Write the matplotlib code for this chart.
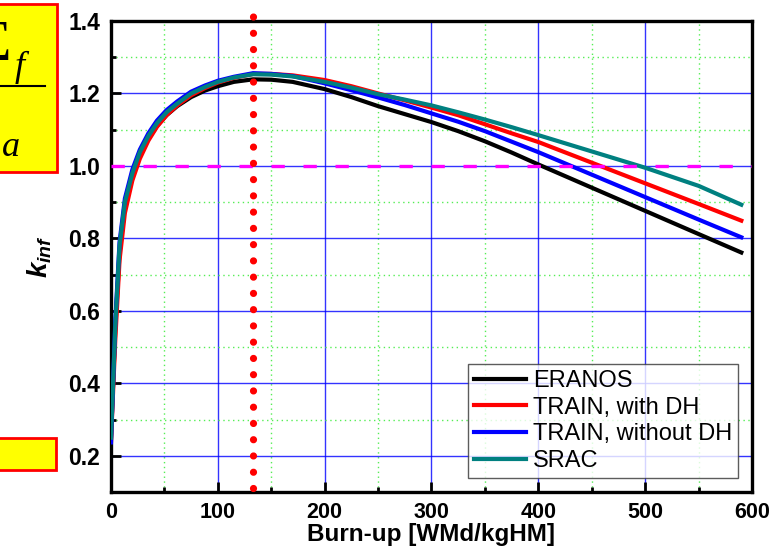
import matplotlib
matplotlib.use("Agg")
import matplotlib.pyplot as plt
from matplotlib.ticker import MultipleLocator
from matplotlib.patches import Rectangle
from matplotlib.lines import Line2D

plt.rcParams['font.family'] = ['Liberation Sans', 'DejaVu Sans']
plt.rcParams['mathtext.fontset'] = 'custom'
plt.rcParams['mathtext.it'] = 'Liberation Sans:italic:bold'
plt.rcParams['mathtext.rm'] = 'Liberation Sans:bold'

burnup = [0, 4, 8, 13, 20, 27, 35, 43, 52, 62, 75, 88, 100, 115, 133, 150, 170,
          200, 225, 250, 275, 300, 325, 350, 375, 400, 450, 500, 550, 590]
eranos = [0.25, 0.55, 0.76, 0.89, 0.975, 1.03, 1.075, 1.11, 1.14, 1.165, 1.19, 1.208, 1.22, 1.232, 1.239, 1.238, 1.232,
          1.212, 1.19, 1.165, 1.143, 1.121, 1.096, 1.068, 1.037, 1.004, 0.94, 0.876, 0.812, 0.761]
train_dh = [0.24, 0.52, 0.74, 0.87, 0.96, 1.02, 1.07, 1.108, 1.14, 1.167, 1.195, 1.215, 1.23, 1.243, 1.254, 1.254, 1.25,
            1.237, 1.22, 1.20, 1.181, 1.161, 1.14, 1.115, 1.09, 1.066, 1.009, 0.952, 0.895, 0.849]
train_nodh = [0.237, 0.57, 0.79, 0.91, 0.99, 1.045, 1.09, 1.125, 1.154, 1.178, 1.205, 1.222, 1.235, 1.246, 1.256, 1.254, 1.248,
              1.228, 1.209, 1.189, 1.168, 1.145, 1.122, 1.096, 1.067, 1.038, 0.976, 0.914, 0.852, 0.803]
srac = [0.25, 0.56, 0.78, 0.90, 0.98, 1.038, 1.083, 1.118, 1.148, 1.172, 1.2, 1.218, 1.232, 1.244, 1.253, 1.252, 1.247,
        1.232, 1.216, 1.198, 1.183, 1.167, 1.148, 1.128, 1.107, 1.085, 1.04, 0.995, 0.945, 0.893]

labels = ["ERANOS", "TRAIN, with DH", "TRAIN, without DH", "SRAC"]
colors = ["#000000", "#ff0000", "#0000ff", "#008080"]
peak_burnup = 133
k_ref = 1.0

W, H = 782, 551
fig = plt.figure(figsize=(W / 100, H / 100), dpi=100)
ax = fig.add_axes([111 / W, 1 - 492 / H, (752 - 111) / W, (492 - 21) / H])

for y, c, lab in zip([eranos, train_dh, train_nodh, srac], colors, labels):
    ax.plot(burnup, y, color=c, lw=3, label=lab, zorder=3, solid_joinstyle='round')

ax.axhline(k_ref, color='#ff00ff', lw=2.4, dashes=(4, 5.6), zorder=4)
ax.plot([peak_burnup, peak_burnup], [0.112, 1.414], color='#ff0000', lw=5.2,
        linestyle=(0, (0.001, 2.25)), dash_capstyle='round', zorder=5, clip_on=False)

ax.set_xlim(0, 600)
ax.set_ylim(0.1, 1.4)
ax.xaxis.set_major_locator(MultipleLocator(100))
ax.xaxis.set_minor_locator(MultipleLocator(50))
ax.yaxis.set_minor_locator(MultipleLocator(0.1))
ax.set_yticks([0.2, 0.4, 0.6, 0.8, 1.0, 1.2, 1.4])

ax.grid(which='major', color='#0000ff', lw=1.0, alpha=0.8, zorder=1)
ax.grid(which='minor', color='#55ee55', lw=1.0, linestyle=(0, (1, 2.5)), zorder=1)
ax.set_axisbelow(True)

for s in ax.spines.values():
    s.set_linewidth(2.4)
ax.tick_params(which='both', direction='in', top=False, right=False, width=2)
ax.tick_params(which='major', length=7)
ax.tick_params(which='minor', length=3.5)
ax.tick_params(axis='x', labelsize=15.5, pad=7)
ax.tick_params(axis='y', labelsize=16.5, pad=8)
ax.set_xticks([0, 100, 200, 300, 400, 500, 600])
ax.set_xticklabels(['0', '100', '200', '300', '400', '500', '600'], fontweight='bold')
ax.set_yticklabels(['0.2', '0.4', '0.6', '0.8', '1.0', '1.2', '1.4'], fontweight='bold')

ax.set_xlabel("Burn-up [WMd/kgHM]", fontsize=17.5, fontweight='bold', labelpad=0)
ax.set_ylabel(r"$k_{inf}$", fontsize=20, labelpad=10)

leg = ax.legend(loc='lower right', bbox_to_anchor=(0.978, 0.03), borderaxespad=0,
                fontsize=17, frameon=True, fancybox=False, edgecolor='#333333',
                handlelength=2.2, handletextpad=0.3, labelspacing=0.2,
                borderpad=0.25)
leg.get_frame().set_linewidth(1.0)
leg.set_zorder(10)

# Cropped annotation boxes at left edge
box1 = Rectangle((-10 / W, 1 - 172 / H), 67 / W, 168 / H, transform=fig.transFigure,
                 facecolor='#ffff00', edgecolor='#ff0000', lw=2, zorder=0)
fig.patches.append(box1)
box2 = Rectangle((-10 / W, 1 - 470 / H), 66 / W, 32 / H, transform=fig.transFigure,
                 facecolor='#ffff00', edgecolor='#ff0000', lw=2, zorder=0)
fig.patches.append(box2)

serif = ['Liberation Serif', 'DejaVu Serif']
fig.text(11 / W, 1 - 60 / H, "Σ", fontsize=40, family=serif, ha='right', va='baseline')
fig.text(15 / W, 1 - 76 / H, "f", fontsize=26, family=serif, style='italic', ha='left', va='baseline')
fig.add_artist(Line2D([0, 45 / W], [1 - 86 / H, 1 - 86 / H], transform=fig.transFigure,
                      color='black', lw=1.5))
fig.text(0 / W, 1 - 148 / H, "Σ", fontsize=40, family=serif, ha='right', va='baseline')
fig.text(2 / W, 1 - 156 / H, "a", fontsize=26, family=serif, style='italic', ha='left', va='baseline')

fig.savefig("out.png", dpi=100)
